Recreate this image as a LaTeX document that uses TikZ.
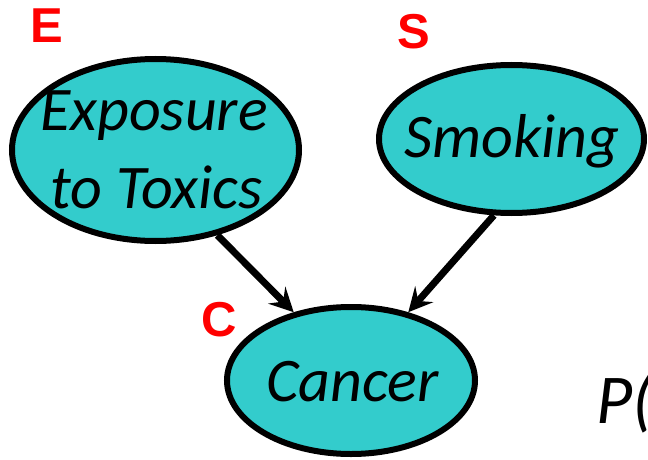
\documentclass[tikz,border=0pt]{standalone}
\usepackage{fontspec}
\setmainfont{Carlito}
\newfontfamily\lblfont{Liberation Sans}
\usetikzlibrary{shapes.geometric,arrows.meta}
\definecolor{nodefill}{RGB}{51,204,204}
\definecolor{lblred}{RGB}{255,0,0}
\tikzset{
  varnode/.style={ellipse, draw=black, line width=6pt, fill=nodefill, inner sep=0pt},
  vartext/.style={anchor=base, inner sep=0pt, font=\fontsize{62}{74}\selectfont\itshape},
  varlbl/.style={anchor=base, inner sep=0pt, text=lblred, font=\lblfont\fontsize{49}{59}\selectfont\bfseries},
  linkarrow/.style={line width=7pt, -{Stealth[length=24pt,width=24pt,inset=9pt]}},
  formula/.style={anchor=base west, inner sep=0pt, font=\fontsize{70}{84}\selectfont\itshape}
}
\begin{document}
\begin{tikzpicture}[x=1pt,y=-1pt]
\useasboundingbox (0,0) rectangle (648,460);
\clip (0,0) rectangle (648,460);
% ellipses
\node[varnode, minimum width=287pt, minimum height=182pt] (E) at (155.5,150) {};
\node[varnode, minimum width=265pt, minimum height=148pt] (S) at (511.5,139) {};
\node[varnode, minimum width=248pt, minimum height=147pt] (C) at (351,380.5) {};
% texts
\node[vartext] (Et1) at (154,130) {Exposure};
\node[vartext] (Et2) at (156.5,208) {to Toxics};
\node[vartext] (St) at (512,157) {Smoking};
\node[vartext] (Ct) at (352.5,401.5) {Cancer};
% letter labels
\node[varlbl] (El) at (46.5,43) {E};
\node[varlbl] (Sl) at (414,49) {S};
\node[varlbl] (Cl) at (219.5,336) {C};
% connectors
\draw[linkarrow] (E.-54) -- (C.130);
\draw[linkarrow] (S.-103) -- (C.50);
% formula
\node[formula] (P) at (596,423) {P(};
\end{tikzpicture}
\end{document}
